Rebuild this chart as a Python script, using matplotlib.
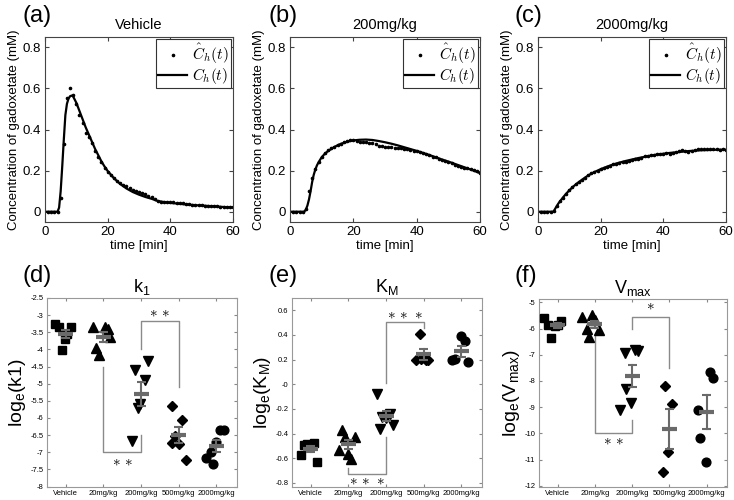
import matplotlib
matplotlib.use('Agg')
import matplotlib.pyplot as plt
import numpy as np
from matplotlib.font_manager import FontProperties

plt.rcParams['font.family'] = ['Liberation Sans', 'DejaVu Sans']
plt.rcParams['axes.unicode_minus'] = False

# ---------------- top row data: concentration time courses ----------------
t_meas = list(range(1, 61))
vehicle_meas = [0, 0, 0, 0, 0.065, 0.33, 0.555, 0.600, 0.570, 0.525,
                0.470, 0.430, 0.385, 0.365, 0.335, 0.295, 0.268, 0.240, 0.213, 0.192,
                0.177, 0.163, 0.150, 0.140, 0.131, 0.123, 0.115, 0.108, 0.101, 0.095,
                0.090, 0.085, 0.078, 0.070, 0.060, 0.050, 0.049, 0.048, 0.047, 0.046,
                0.045, 0.044, 0.043, 0.041, 0.039, 0.037, 0.035, 0.033, 0.032, 0.031,
                0.030, 0.029, 0.028, 0.027, 0.026, 0.025, 0.024, 0.023, 0.022, 0.021]
mg200_meas = [0, 0, 0, 0, 0.015, 0.10, 0.165, 0.21, 0.24, 0.265,
              0.285, 0.298, 0.31, 0.317, 0.325, 0.331, 0.337, 0.342, 0.347, 0.35,
              0.342, 0.34, 0.341, 0.337, 0.336, 0.333, 0.33, 0.322, 0.318, 0.316,
              0.314, 0.313, 0.31, 0.31, 0.308, 0.305, 0.303, 0.301, 0.297, 0.293,
              0.289, 0.285, 0.279, 0.274, 0.268, 0.264, 0.258, 0.252, 0.247, 0.242,
              0.236, 0.229, 0.224, 0.219, 0.215, 0.212, 0.208, 0.203, 0.197, 0.19]
mg2000_meas = [0, 0, 0, 0, 0.003, 0.03, 0.05, 0.068, 0.088, 0.105,
               0.12, 0.135, 0.145, 0.155, 0.165, 0.178, 0.186, 0.194, 0.2, 0.206,
               0.213, 0.218, 0.222, 0.23, 0.233, 0.238, 0.24, 0.243, 0.247, 0.25,
               0.255, 0.258, 0.262, 0.27, 0.272, 0.274, 0.277, 0.28, 0.281, 0.283,
               0.285, 0.283, 0.286, 0.289, 0.296, 0.298, 0.297, 0.292, 0.294, 0.301,
               0.305, 0.303, 0.303, 0.304, 0.303, 0.304, 0.304, 0.302, 0.303, 0.301]

t_fit = [0, 1, 2, 3, 4, 4.5, 5, 5.5, 6, 6.5, 7, 7.5, 8, 8.5, 9,
         10, 11, 12, 13, 14, 15, 16, 17, 18, 19, 20,
         22, 24, 26, 28, 30, 32, 34, 36, 38, 40, 42, 44, 46, 48, 50, 52, 54, 56, 58, 60]
vehicle_fit = [0, 0, 0, 0, 0, 0.02, 0.10, 0.22, 0.35, 0.47, 0.525, 0.55, 0.562, 0.565, 0.56,
               0.53, 0.49, 0.45, 0.41, 0.375, 0.34, 0.305, 0.275, 0.245, 0.22, 0.198,
               0.163, 0.135, 0.113, 0.096, 0.083, 0.072, 0.063, 0.052, 0.047, 0.043,
               0.040, 0.037, 0.034, 0.032, 0.030, 0.028, 0.026, 0.024, 0.022, 0.021]
mg200_fit = [0, 0, 0, 0, 0, 0.0, 0.01, 0.03, 0.06, 0.10, 0.145, 0.18, 0.205, 0.225, 0.24,
             0.265, 0.282, 0.295, 0.305, 0.315, 0.323, 0.33, 0.335, 0.34, 0.344, 0.347,
             0.35, 0.351, 0.349, 0.344, 0.338, 0.331, 0.323, 0.314, 0.305, 0.296,
             0.286, 0.276, 0.265, 0.254, 0.244, 0.233, 0.222, 0.211, 0.2, 0.188]
mg2000_fit = [0, 0, 0, 0, 0, 0, 0.002, 0.015, 0.028, 0.04, 0.05, 0.06, 0.07, 0.079, 0.088,
              0.104, 0.119, 0.132, 0.144, 0.155, 0.166, 0.176, 0.185, 0.193, 0.2, 0.207,
              0.219, 0.23, 0.239, 0.247, 0.254, 0.261, 0.267, 0.273, 0.278, 0.282,
              0.286, 0.289, 0.292, 0.295, 0.297, 0.299, 0.3, 0.301, 0.302, 0.302]

top_titles = ['Vehicle', '200mg/kg', '2000mg/kg']
top_labels = ['(a)', '(b)', '(c)']

# ---------------- bottom row data: parameter estimates ----------------
groups = ['Vehicle', '20mg/kg', '200mg/kg', '500mg/kg', '2000mg/kg']

k1_values = [[-3.27, -3.36, -3.36, -3.56, -3.71, -4.02],
             [-3.34, -3.34, -3.39, -3.65, -3.97, -4.17],
             [-4.33, -4.60, -4.88, -5.59, -5.72, -6.66],
             [-5.65, -6.06, -6.54, -6.74, -6.76, -7.22],
             [-6.35, -6.35, -6.69, -6.98, -7.17, -7.34]]
k1_jitter = [[-0.29, -0.18, 0.13, 0.04, -0.03, -0.11],
             [-0.29, 0.04, 0.11, 0.18, -0.20, -0.11],
             [0.18, -0.16, 0.11, -0.03, -0.09, -0.25],
             [-0.19, 0.10, -0.10, -0.18, 0.00, 0.20],
             [0.10, 0.20, 0.00, -0.13, -0.27, -0.09]]

km_values = [[-0.575, -0.49, -0.485, -0.49, -0.475, -0.635],
             [-0.37, -0.43, -0.425, -0.53, -0.568, -0.61],
             [-0.081, -0.265, -0.243, -0.27, -0.367, -0.333],
             [0.41, 0.20, 0.205, 0.195, 0.20],
             [0.39, 0.355, 0.20, 0.205, 0.18]]
km_jitter = [[-0.26, -0.18, -0.10, -0.03, 0.09, 0.17],
             [-0.18, -0.09, 0.17, -0.25, -0.02, 0.08],
             [-0.25, -0.12, 0.10, 0.00, -0.16, 0.19],
             [-0.10, -0.20, -0.08, 0.05, 0.12],
             [0.00, 0.09, -0.26, -0.17, 0.18]]

vmax_values = [[-5.59, -5.85, -5.89, -5.72, -5.85, -6.35],
               [-5.56, -5.47, -5.66, -6.01, -6.04, -6.32],
               [-6.92, -6.82, -6.86, -8.29, -8.85, -9.10],
               [-8.19, -8.89, -10.73, -11.49],
               [-7.66, -7.87, -9.10, -10.16, -11.11]]
vmax_jitter = [[-0.37, -0.25, -0.07, 0.08, 0.02, -0.19],
               [-0.35, -0.08, 0.01, -0.20, 0.12, -0.15],
               [-0.20, 0.07, 0.16, -0.16, -0.02, -0.32],
               [-0.12, 0.06, -0.03, -0.18],
               [0.10, 0.17, -0.24, -0.17, -0.01]]

# ---------------- figure ----------------
fig = plt.figure(figsize=(7.34, 5.0), dpi=100)
W, H = 734.0, 500.0

def ax_px(left, top, right, bottom):
    return fig.add_axes([left / W, 1 - bottom / H, (right - left) / W, (bottom - top) / H])

top_axes = [ax_px(45, 37, 233, 222), ax_px(290, 37, 480, 222), ax_px(538, 37, 726, 222)]
bot_axes = [ax_px(47, 298, 237, 486.5), ax_px(292, 298, 482, 486.5), ax_px(539, 299, 727, 486.5)]

meas_sets = [vehicle_meas, mg200_meas, mg2000_meas]
fit_sets = [vehicle_fit, mg200_fit, mg2000_fit]
leg_prop = FontProperties(size=11, math_fontfamily='cm')

for i, ax in enumerate(top_axes):
    ax.plot(t_meas, meas_sets[i], 'k.', ms=3.2, label=r'$\hat{C}_h(t)$')
    ax.plot(t_fit, fit_sets[i], 'k-', lw=1.6, label=r'$C_h(t)$')
    ax.set_xlim(0, 60)
    ax.set_ylim(-0.05, 0.85)
    ax.set_xticks([0, 20, 40, 60])
    ax.set_yticks([0, 0.2, 0.4, 0.6, 0.8])
    ax.set_yticklabels(['0', '0.2', '0.4', '0.6', '0.8'])
    ax.tick_params(direction='in', length=3, labelsize=9.5, top=True, right=True,
                   color='#444444', pad=3)
    for s in ax.spines.values():
        s.set_color('#444444')
        s.set_linewidth(0.8)
    ax.set_xlabel('time [min]', fontsize=9.5, labelpad=1)
    ax.set_ylabel('Concentration of gadoxetate (mM)', fontsize=9.5, labelpad=2)
    ax.set_title(top_titles[i], fontsize=10.5, pad=6)
    leg = ax.legend(loc='upper right', prop=leg_prop, numpoints=1, handlelength=1.9,
                    handletextpad=0.3, borderpad=0.15, labelspacing=0.0,
                    borderaxespad=0.15, fancybox=False, edgecolor='#333333',
                    framealpha=1, markerscale=1.0)
    leg.get_frame().set_linewidth(0.8)

for lab, x in zip(top_labels, [22, 268, 515]):
    fig.text(x / W, 1 - 16 / H, lab, fontsize=17, va='center', ha='left')

# bottom panels
markers = ['s', '^', 'v', 'D', 'o']
msizes = [5.4, 6.6, 6.6, 5.4, 6.3]
bar_col = '#6a6a6a'
brk_col = '#8a8a8a'

bottom_sets = [
    dict(values=k1_values, jitter=k1_jitter, ylim=(-8, -2.5),
         yticks=np.arange(-8, -2.49, 0.5), title=r'k$_{\mathregular{1}}$',
         ylabel=r'log$_{\mathregular{e}}$(k1)', label='(d)',
         brackets=[(3, 4, -4.0, -3.18, -5.1, 2, -2.93),
                   (2, 3, -4.5, -7.0, -6.5, 2, -7.27)]),
    dict(values=km_values, jitter=km_jitter, ylim=(-0.83, 0.70),
         yticks=np.arange(-0.8, 0.61, 0.2), title=r'K$_{\mathregular{M}}$',
         ylabel=r'log$_{\mathregular{e}}$(K$_{\mathregular{M}}$)', label='(e)',
         brackets=[(3, 4, 0.01, 0.505, 0.46, 3, 0.57),
                   (2, 3, -0.68, -0.73, -0.43, 3, -0.785)]),
    dict(values=vmax_values, jitter=vmax_jitter, ylim=(-12.03, -4.87),
         yticks=np.arange(-12, -4.9, 1.0), title=r'V$_{\mathregular{max}}$',
         ylabel=r'log$_{\mathregular{e}}$(V$_{\mathregular{max}}$)', label='(f)',
         brackets=[(3, 4, -6.0, -5.56, -7.5, 1, -5.1),
                   (2, 3, -6.3, -10.0, -9.5, 2, -10.28)]),
]

star_prop = FontProperties(size=11, math_fontfamily='cm')
for ax, cfg in zip(bot_axes, bottom_sets):
    for g in range(len(groups)):
        xs = [g + 1 + j for j in cfg['jitter'][g]]
        ys = cfg['values'][g]
        ax.plot(xs, ys, linestyle='none', marker=markers[g], ms=msizes[g],
                color='black', zorder=3)
        arr = np.array(ys)
        m = arr.mean()
        sem = arr.std(ddof=1) / np.sqrt(len(arr))
        xc = g + 1
        ax.plot([xc - 0.2, xc + 0.2], [m, m], color=bar_col, lw=3, zorder=4,
                solid_capstyle='butt')
        ax.plot([xc, xc], [m - sem, m + sem], color=bar_col, lw=1.5, zorder=4)
        for yy in (m - sem, m + sem):
            ax.plot([xc - 0.12, xc + 0.12], [yy, yy], color=bar_col, lw=1.5, zorder=4,
                    solid_capstyle='butt')
    for (x1, x2, y1, ytop, y2, nstar, ys) in cfg['brackets']:
        ax.plot([x1, x1, x2, x2], [y1, ytop, ytop, y2], color=brk_col, lw=1.0, zorder=2)
        star = '$' + r'\ast\,' * (nstar - 1) + r'\ast' + '$'
        ax.text((x1 + x2) / 2, ys, star, ha='center', va='center',
                fontproperties=star_prop)
    ax.set_xlim(0.5, 5.55)
    ax.set_ylim(*cfg['ylim'])
    ax.set_xticks(range(1, 6))
    ax.set_xticklabels(groups)
    ax.set_yticks(cfg['yticks'])
    ax.set_yticklabels(['%g' % round(v, 2) for v in cfg['yticks']])
    ax.tick_params(direction='in', length=2.5, labelsize=5.5, top=True, right=True,
                   color='#888888', pad=2.5)
    for s in ax.spines.values():
        s.set_color('#999999')
        s.set_linewidth(0.8)
    ax.set_title(cfg['title'], fontsize=13, pad=4)
    ax.set_ylabel(cfg['ylabel'], fontsize=14, labelpad=2)

for lab, x in zip(['(d)', '(e)', '(f)'], [22, 268, 515]):
    fig.text(x / W, 1 - 276 / H, lab, fontsize=17, va='center', ha='left')

fig.savefig('out.png', dpi=100)
